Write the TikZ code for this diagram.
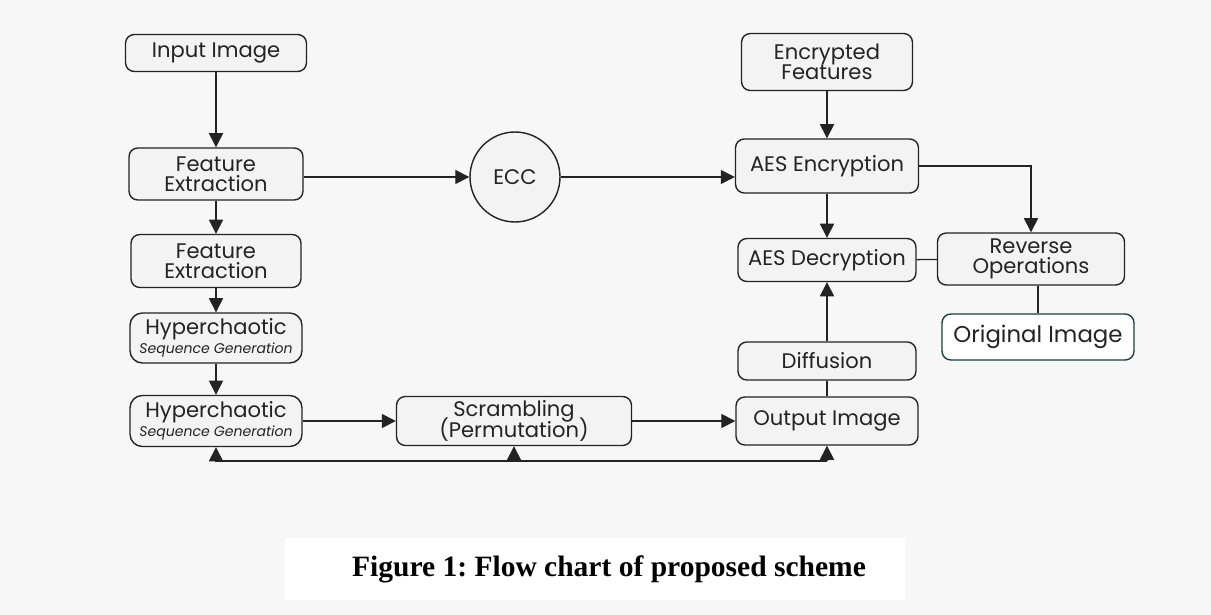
\documentclass[tikz,border=0pt]{standalone}
\usepackage{fontspec}
\setmainfont{Poppins}
\newfontfamily\capfont{Liberation Serif}
\definecolor{bggray}{RGB}{247,247,247}
\definecolor{boxfill}{RGB}{243,243,243}
\definecolor{linegray}{RGB}{35,35,35}
\usetikzlibrary{positioning,arrows.meta,calc}
\newcommand{\seqgen}{{\fontsize{8}{9}\selectfont\itshape Sequence Generation}}
\frenchspacing

\begin{document}
\begin{tikzpicture}[x=0.02cm,y=-0.02cm,
    every node/.style={font=\fontsize{12}{11.6}\selectfont,align=center,text=linegray},
    block/.style={draw=linegray,thick,rounded corners=5pt,fill=boxfill,inner sep=1pt},
    arr/.style={thick,draw=linegray,-{Triangle[length=8pt,width=8pt]}},
    link/.style={thick,draw=linegray}
    ]

    % the canvas
    \useasboundingbox[fill=bggray] (0,0) rectangle (1211,615);
    \fill[white] (285,538) rectangle (905,600);

    % the left column
    \node[block,minimum width=3.62cm,minimum height=0.74cm] (input) at (216,53) {Input Image};
    \node[block,minimum width=3.48cm,minimum height=1.04cm] (feat1) at (216,174) {Feature\\Extraction};
    \node[block,minimum width=3.40cm,minimum height=1.06cm] (feat2) at (216,261) {Feature\\Extraction};
    \node[block,minimum width=3.44cm,minimum height=1.00cm,rounded corners=7pt] (hyp1) at (216,338) {Hyperchaotic\\[-1pt]\seqgen};
    \node[block,minimum width=3.44cm,minimum height=1.02cm,rounded corners=7pt] (hyp2) at (216,421) {Hyperchaotic\\[-1pt]\seqgen};

    % the middle
    \node[draw=linegray,thick,circle,fill=boxfill,minimum size=1.8cm] (ecc) at (515,177) {ECC};
    \node[block,minimum width=4.70cm,minimum height=0.98cm] (scramble) at (514,421) {Scrambling\\[-3.4pt](Permutation)};

    % the right column
    \node[block,minimum width=3.42cm,minimum height=1.14cm] (encfeat) at (827,62) {Encrypted\\Features};
    \node[block,minimum width=3.66cm,minimum height=1.08cm] (aesenc) at (827,166) {AES Encryption};
    \node[block,minimum width=3.56cm,minimum height=0.86cm] (aesdec) at (827,260) {AES Decryption};
    \node[block,minimum width=3.56cm,minimum height=0.76cm] (diffusion) at (827,361) {Diffusion};
    \node[block,minimum width=3.64cm,minimum height=0.96cm] (output) at (827,421) {Output Image};
    \node[block,minimum width=3.74cm,minimum height=1.04cm] (reverse) at (1031,259) {Reverse\\Operations};
    \node[block,draw=linegray!70!teal,fill=white,minimum width=3.84cm,minimum height=0.92cm] (original) at (1038,337) {\fontsize{13}{15}\selectfont Original Image};

    % the caption
    \node[font=\capfont\bfseries\fontsize{16.8}{20}\selectfont,text=black] (caption) at (609,569) {Figure 1: Flow chart of proposed scheme};

    % the edges on the left
    \draw[arr] (input) -- (feat1);
    \draw[arr] (feat1) -- (feat2);
    \draw[arr] (feat2) -- (hyp1);
    \draw[arr] (hyp1) -- (hyp2);
    \draw[arr] (hyp2) -- (scramble);
    \draw[arr] (scramble) -- (output);

    % the edges through ECC
    \draw[arr] (feat1.east |- ecc) -- (ecc);
    \draw[arr] (ecc) -- (ecc -| aesenc.west);

    % the edges on the right
    \draw[arr] (encfeat) -- (aesenc);
    \draw[arr] (aesenc) -- (aesdec);
    \draw[arr] (aesenc.east) -| (reverse.north);
    \draw[link] (aesdec) -- (reverse);
    \draw[link,line width=1.2pt] (reverse.south -| original) -- (original.north);
    \draw[link] (output) -- (diffusion);
    \draw[arr] (diffusion) -- (aesdec);

    % the feedback line
    \coordinate (fbleft) at (216,461);
    \coordinate (fbright) at (827,461);
    \draw[link] (fbleft) -- (fbright);
    \draw[arr] (fbleft) -- (hyp2.south);
    \draw[arr] (scramble |- fbleft) -- (scramble.south);
    \draw[arr] (fbright) -- (output.south);
\end{tikzpicture}
\end{document}
